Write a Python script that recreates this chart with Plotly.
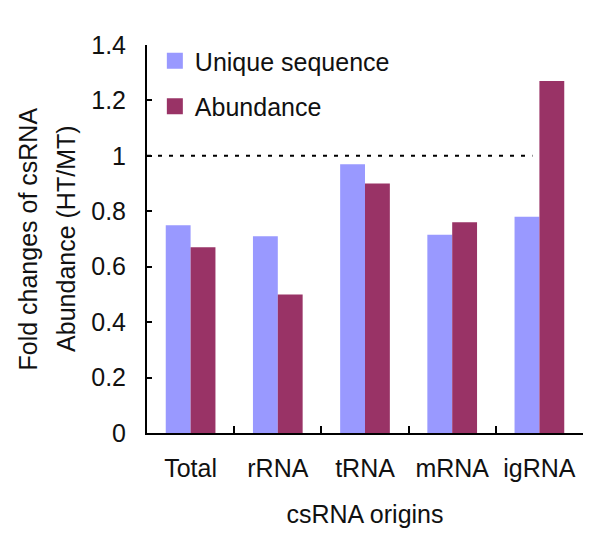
import plotly.graph_objects as go

categories = ["Total", "rRNA", "tRNA", "mRNA", "igRNA"]
unique_sequence = [0.75, 0.71, 0.97, 0.715, 0.78]
abundance = [0.67, 0.50, 0.90, 0.76, 1.27]
y_ticks = [0, 0.2, 0.4, 0.6, 0.8, 1.0, 1.2, 1.4]
y_tick_labels = ["0", "0.2", "0.4", "0.6", "0.8", "1", "1.2", "1.4"]
reference_level = 1.0

C_UNIQUE = "#9999FF"
C_ABUND = "#993366"
FONT = "Liberation Sans, Arial, sans-serif"
FS = 25

fig = go.Figure()
fig.add_trace(go.Bar(x=categories, y=unique_sequence, name="Unique sequence",
                     marker=dict(color=C_UNIQUE, line=dict(width=0)), showlegend=False))
fig.add_trace(go.Bar(x=categories, y=abundance, name="Abundance",
                     marker=dict(color=C_ABUND, line=dict(width=0)), showlegend=False))
# legend entries with larger square swatches
fig.add_trace(go.Scatter(x=[None], y=[None], mode="markers", name="Unique sequence",
                         legendgroup="a",
                         marker=dict(symbol="square", size=18, color=C_UNIQUE)))
fig.add_trace(go.Scatter(x=[None], y=[None], mode="markers", name="Abundance",
                         legendgroup="b",
                         marker=dict(symbol="square", size=18, color=C_ABUND)))

fig.add_shape(type="line", xref="x", yref="y", x0=-0.5, x1=3.92,
              y0=reference_level, y1=reference_level,
              line=dict(color="black", width=2, dash="4px,7px"))

fig.update_layout(
    width=600, height=550,
    # the page body has an 8px margin; compensate so the plot area sits at x 147-583, y 45-433
    margin=dict(l=139, r=25, t=37, b=125),
    paper_bgcolor="white", plot_bgcolor="white",
    font=dict(family=FONT, size=FS, color="#111111"),
    barmode="group", bargap=0.43, bargroupgap=0,
    legend=dict(x=0.018, y=1.018, xanchor="left", yanchor="top",
                bgcolor="rgba(0,0,0,0)", tracegroupgap=10,
                itemwidth=30, font=dict(size=FS)),
    xaxis=dict(type="category", range=[-0.5, 4.5], showline=True, linecolor="black",
               linewidth=2, ticks="inside", tickson="boundaries", ticklen=7,
               tickwidth=2, tickcolor="black", showgrid=False, zeroline=False,
               ticklabelstandoff=12,
               title=dict(text="csRNA origins", standoff=24, font=dict(size=FS))),
    yaxis=dict(range=[0, 1.4], tickvals=y_ticks, ticktext=y_tick_labels,
               showline=True, linecolor="black", linewidth=2, ticks="inside",
               ticklen=5, tickwidth=2, tickcolor="black", showgrid=False,
               zeroline=False, ticklabelstandoff=14),
    annotations=[
        dict(text="Fold changes of csRNA", xref="paper", yref="paper",
             x=-0.274, y=0.5, xanchor="center", yanchor="middle",
             textangle=-90, showarrow=False, font=dict(size=FS)),
        dict(text="Abundance (HT/MT)", xref="paper", yref="paper",
             x=-0.186, y=0.5, xanchor="center", yanchor="middle",
             textangle=-90, showarrow=False, font=dict(size=FS)),
    ],
)

fig.write_html("out.html")
